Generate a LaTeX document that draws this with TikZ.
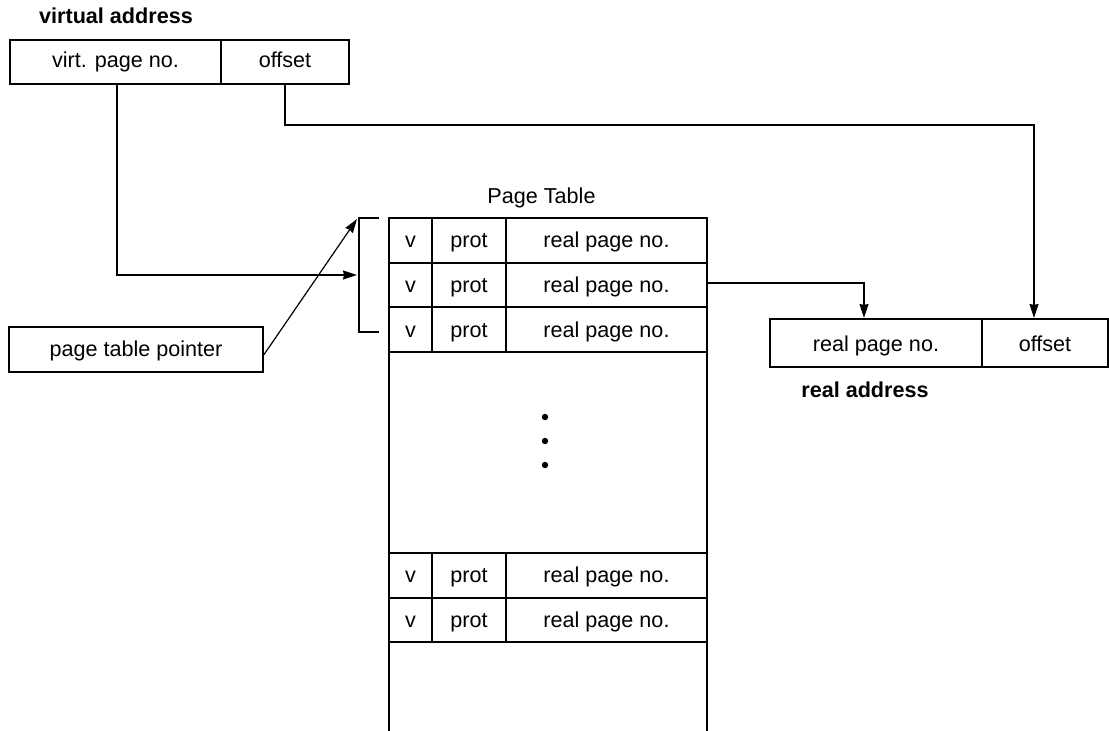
\documentclass[tikz,border=0pt]{standalone}
\usepackage{fontspec}
\setmainfont{Liberation Sans}
\usetikzlibrary{arrows.meta}
\begin{document}
\begin{tikzpicture}[x=1pt,y=-1pt,
  every node/.style={font=\fontsize{21.6}{25}\selectfont,text height=15.5pt,text depth=4.5pt},
  cell/.style={draw,line width=2.1pt,inner sep=0pt,minimum height=44.7pt},
  tcell/.style={cell,text height=17.3pt,text depth=2.7pt},
  title/.style={font=\fontsize{21.6}{25}\selectfont\bfseries,inner sep=0pt},
  conn/.style={line width=1.2pt},
  arr/.style={conn,-{Stealth[length=14pt,width=9pt,inset=1pt]}},
  tline/.style={line width=2.1pt}]
\useasboundingbox (0,0) rectangle (1109,731);
% virtual address
\node[title] (vatitle) at (116,18) {virtual address};
\node[cell,minimum width=211pt,minimum height=44pt,text height=15.3pt,text depth=4.7pt] (vpn) at (115.5,62) {virt. page no.};
\node[cell,minimum width=128pt,minimum height=44pt,text height=15.3pt,text depth=4.7pt] (voff) at (285,62) {offset};
% page table
\node[inner sep=0pt] (pttitle) at (541.5,198) {Page Table};
\foreach \r/\y in {1/240.35,2/285.05,3/329.75,4/575.35,5/620.05}{
  \node[tcell,minimum width=43pt] (v\r) at (410.5,\y) {v};
  \node[tcell,minimum width=74pt] (p\r) at (469,\y) {prot};
  \node[tcell,minimum width=201pt] (r\r) at (606.5,\y) {real page no.};
}
\coordinate (tl) at (389,352);
\coordinate (tlb) at (389,731);
\coordinate (tr) at (707,352);
\coordinate (trb) at (707,731);
\draw[tline] (tl) -- (tlb);
\draw[tline] (tr) -- (trb);
\foreach \y/\n in {417/d1,441/d2,465/d3}{
  \fill (545,\y) circle (3.2pt) coordinate (\n);
}
% bracket
\coordinate (bt) at (379,218);
\coordinate (btc) at (359,218);
\coordinate (bbc) at (359,332);
\coordinate (bb) at (379,332);
\draw[conn] (bt) -- (btc) -- (bbc) -- (bb);
% page table pointer
\node[cell,minimum width=254pt,minimum height=45pt,text height=17.2pt,text depth=2.8pt] (ptr) at (136,349.5) {page table pointer};
\coordinate (ptrtip) at (357,219);
\draw[arr] ([yshift=-5pt]ptr.east) -- (ptrtip);
% vpn arrow
\coordinate (vbend) at (117,275);
\coordinate (vtip) at (357,275);
\draw[arr] (vpn.south -| vbend) -- (vbend) -- (vtip);
% real address
\node[cell,minimum width=212pt,minimum height=48pt,text height=18.7pt,text depth=1.3pt] (rrpn) at (876,343) {real page no.};
\node[cell,minimum width=126pt,minimum height=48pt,text height=18.7pt,text depth=1.3pt] (roff) at (1045,343) {offset};
\node[title] (ratitle) at (865,392) {real address};
% offset arrow
\coordinate (o1) at (285,125);
\coordinate (o2) at (1034,125);
\draw[arr] (voff.south) -- (o1) -- (o2) -- (o2 |- roff.north);
% real page arrow
\coordinate (rp1) at (864,283);
\draw[arr] (r2.east |- rp1) -- (rp1) -- (rp1 |- rrpn.north);
\end{tikzpicture}
\end{document}
